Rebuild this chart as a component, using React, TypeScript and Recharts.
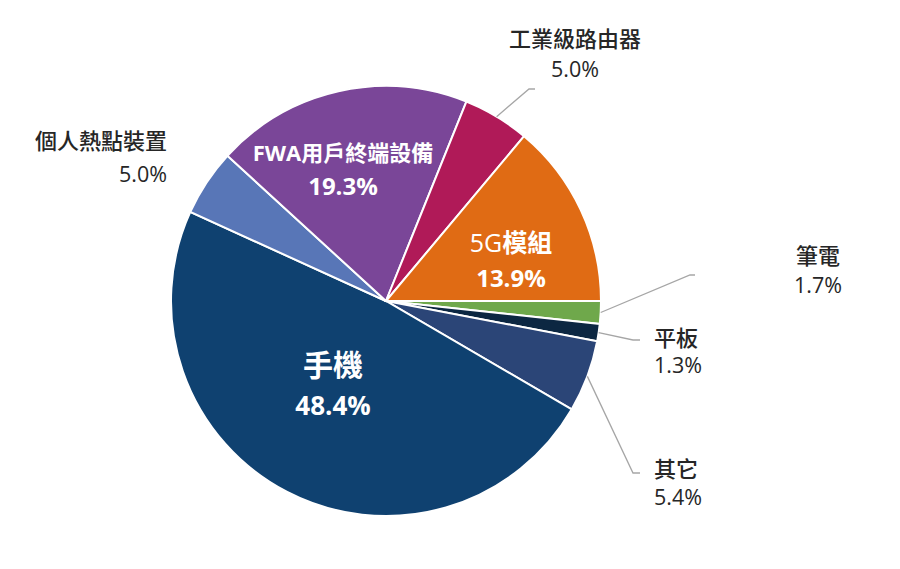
import { PieChart, Pie, Cell } from 'recharts';

// clockwise from 3 o'clock
const categories = ['筆電', '平板', '其它', '手機', '個人熱點裝置', 'FWA用戶終端設備', '工業級路由器', '5G模組'];
const shares = [1.7, 1.3, 5.4, 48.4, 5.0, 19.3, 5.0, 13.9];
const colors = ['#6fa84b', '#0c2742', '#2b4577', '#0f4170', '#5876b7', '#7a4698', '#b01a58', '#e06b14'];

const data = categories.map((name, i) => ({ name, value: shares[i] }));

const RAD = Math.PI / 180;
const FONT = '"Open Sans", "Noto Sans CJK TC", sans-serif';

// label placement, offsets from the pie centre
type Layout =
  | { kind: 'inside'; dx: number; dy: number; size: number; pctSize: number; gap: number }
  | {
      kind: 'outside';
      elbow?: [number, number];
      tail?: number;
      tx: number;
      ty: number;
      gap: number;
      anchor: 'start' | 'middle' | 'end';
    };

const layouts: Layout[] = [
  { kind: 'outside', elbow: [304, -26], tail: 5, tx: 432, ty: -46, gap: 29, anchor: 'middle' },
  { kind: 'outside', elbow: [247, 39], tail: 7, tx: 268, ty: 36, gap: 27, anchor: 'start' },
  { kind: 'outside', elbow: [247, 172], tail: 7, tx: 268, ty: 167, gap: 28, anchor: 'start' },
  { kind: 'inside', dx: -53, dy: 63, size: 30, pctSize: 26, gap: 41 },
  { kind: 'outside', tx: -219, ty: -161, gap: 33, anchor: 'end' },
  { kind: 'inside', dx: -43, dy: -149, size: 22, pctSize: 24, gap: 33 },
  { kind: 'outside', elbow: [143, -212], tail: 6, tx: 189, ty: -263, gap: 30, anchor: 'middle' },
  { kind: 'inside', dx: 125, dy: -59, size: 25, pctSize: 24, gap: 35 },
];

const renderTitle = (name: string) => {
  // latin prefix like "5G" is drawn in regular weight in the original
  const m = /^(\d+G)(.*)$/.exec(name);
  if (!m) return name;
  return (
    <>
      <tspan fontWeight="normal">{m[1]}</tspan>
      <tspan>{m[2]}</tspan>
    </>
  );
};

const renderLabel = (props: any) => {
  const { cx, cy, midAngle, outerRadius, index, value } = props;
  const lay = layouts[index];
  const pct = `${Number(value).toFixed(1)}%`;
  if (lay.kind === 'inside') {
    const x = cx + lay.dx;
    const y = cy + lay.dy;
    return (
      <g key={`lbl-${index}`}>
        <text x={x} y={y} fill="#ffffff" textAnchor="middle" dominantBaseline="central"
          fontFamily={FONT} fontSize={lay.size} fontWeight="bold">
          {renderTitle(categories[index])}
        </text>
        <text x={x} y={y + lay.gap} fill="#ffffff" textAnchor="middle" dominantBaseline="central"
          fontFamily={FONT} fontSize={lay.pctSize} fontWeight="bold">
          {pct}
        </text>
      </g>
    );
  }
  const sx = cx + outerRadius * Math.cos(-midAngle * RAD);
  const sy = cy + outerRadius * Math.sin(-midAngle * RAD);
  let line = null;
  if (lay.elbow) {
    const ex = cx + lay.elbow[0];
    const ey = cy + lay.elbow[1];
    line = (
      <polyline
        points={`${sx},${sy} ${ex},${ey} ${ex + (lay.tail ?? 0)},${ey}`}
        fill="none"
        stroke="#a6a6a6"
        strokeWidth={1.3}
      />
    );
  }
  const tx = cx + lay.tx;
  const ty = cy + lay.ty;
  return (
    <g key={`lbl-${index}`}>
      {line}
      <text x={tx} y={ty} fill="#262626" textAnchor={lay.anchor} dominantBaseline="central"
        fontFamily={FONT} fontSize={22} fontWeight={500}>
        {categories[index]}
      </text>
      <text x={tx} y={ty + lay.gap} fill="#262626" textAnchor={lay.anchor} dominantBaseline="central"
        fontFamily={FONT} fontSize={21.5}>
        {pct}
      </text>
    </g>
  );
};

export default function App() {
  return (
    <div style={{ position: 'absolute', left: 0, top: 0, width: 900, height: 569, background: '#ffffff' }}>
      <PieChart width={900} height={569} margin={{ top: 0, right: 0, bottom: 0, left: 0 }}>
        <Pie
          data={data}
          dataKey="value"
          nameKey="name"
          cx={386}
          cy={301}
          outerRadius={215}
          startAngle={0}
          endAngle={-360}
          stroke="#ffffff"
          strokeWidth={2}
          label={renderLabel}
          labelLine={false}
          isAnimationActive={false}
        >
          {data.map((d, i) => (
            <Cell key={d.name} fill={colors[i]} />
          ))}
        </Pie>
      </PieChart>
    </div>
  );
}
